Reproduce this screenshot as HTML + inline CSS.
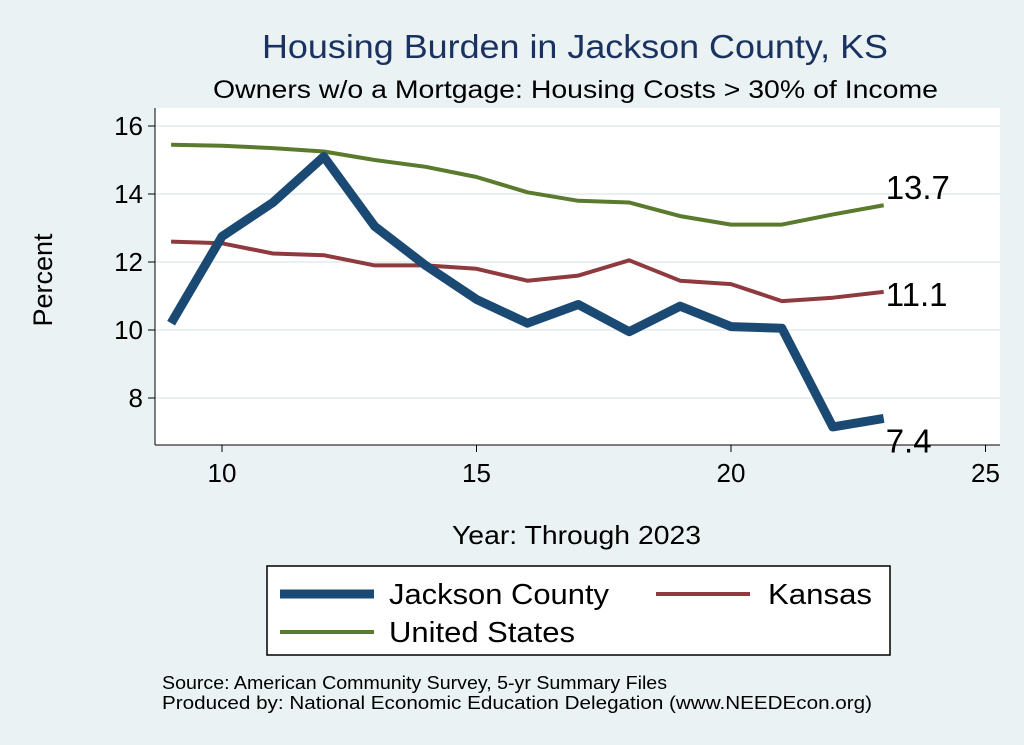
<!DOCTYPE html>
<html><head><meta charset="utf-8"><style>
body{margin:0;background:#eaf2f3;}
svg{display:block;font-family:"Liberation Sans",Arial,sans-serif;}
</style></head><body>
<svg id="c" width="1024" height="745">
<rect x="0" y="0" width="1024" height="745" fill="#eaf2f3"/>
<text x="262" y="58" font-size="33" fill="#1a3260" textLength="626" lengthAdjust="spacingAndGlyphs">Housing Burden in Jackson County, KS</text>
<text x="213" y="98" font-size="25" fill="#000" textLength="725" lengthAdjust="spacingAndGlyphs">Owners w/o a Mortgage: Housing Costs &gt; 30% of Income</text>
<rect x="155" y="108" width="845" height="337" fill="#fff"/>
<g id="grid"></g><g id="axes"></g><g id="series"></g>
<text x="52" y="280" font-size="27" text-anchor="middle" transform="rotate(-90 52 280)">Percent</text>
<text x="452" y="544" font-size="26" textLength="249" lengthAdjust="spacingAndGlyphs">Year: Through 2023</text>
<g>
<rect x="267" y="566" width="623" height="89" fill="#fff" stroke="#000" stroke-width="1.5"/>
<line x1="280" y1="594" x2="374" y2="594" stroke="#1a4a73" stroke-width="9"/>
<text x="389" y="604" font-size="29" textLength="220" lengthAdjust="spacingAndGlyphs">Jackson County</text>
<line x1="656" y1="594" x2="750" y2="594" stroke="#8e3a3f" stroke-width="4"/>
<text x="768" y="604" font-size="29" textLength="104" lengthAdjust="spacingAndGlyphs">Kansas</text>
<line x1="280" y1="632" x2="374" y2="632" stroke="#5a7a2e" stroke-width="4"/>
<text x="389" y="642" font-size="29" textLength="186" lengthAdjust="spacingAndGlyphs">United States</text>
</g>
<text x="162" y="689" font-size="18" textLength="505" lengthAdjust="spacingAndGlyphs">Source: American Community Survey, 5-yr Summary Files</text>
<text x="162" y="709" font-size="18" textLength="710" lengthAdjust="spacingAndGlyphs">Produced by: National Economic Education Delegation (www.NEEDEcon.org)</text>
</svg>
<script>
const years=[9,10,11,12,13,14,15,16,17,18,19,20,21,22,23];
const jackson=[10.2,12.75,13.75,15.1,13.05,11.9,10.9,10.2,10.75,9.95,10.7,10.1,10.05,7.15,7.4];
const kansas=[12.6,12.55,12.25,12.2,11.9,11.9,11.8,11.45,11.6,12.05,11.45,11.35,10.85,10.95,11.12];
const us=[15.45,15.42,15.35,15.25,15.0,14.8,14.5,14.05,13.8,13.75,13.35,13.1,13.1,13.4,13.67];
const xTicks=[10,15,20,25];
const yTicks=[8,10,12,14,16];
const X=v=>222+(v-10)*50.9;
const Y=v=>126+(16-v)*34;
const NS="http://www.w3.org/2000/svg";
function mk(tag,attrs,parent){const e=document.createElementNS(NS,tag);for(const k in attrs)e.setAttribute(k,attrs[k]);parent.appendChild(e);return e;}
const grid=document.getElementById('grid'),axes=document.getElementById('axes'),ser=document.getElementById('series');
yTicks.forEach(t=>{
 const g=mk('line',{x1:155,x2:1000,y1:Y(t),y2:Y(t),stroke:'#e4ecee','stroke-width':1.5},grid);
 
 
 const tk=mk('line',{x1:148,x2:155,y1:Y(t),y2:Y(t),stroke:'#000'},axes);
 
 
 const tx=mk('text',{x:143,y:Y(t)+9,'font-size':26,'text-anchor':'end'},axes);tx.textContent=t;
 
 
});
xTicks.forEach(t=>{
 const tk=mk('line',{x1:X(t),x2:X(t),y1:445,y2:452,stroke:'#000'},axes);
 
 
 const tx=mk('text',{x:X(t),y:482,'font-size':26,'text-anchor':'middle'},axes);tx.textContent=t;
 
 
});
const ya=mk('line',{x1:155,x2:155,y1:108,y2:445,stroke:'#000'},axes);


const xa=mk('line',{x1:155,x2:1000,y1:445,y2:445,stroke:'#000'},axes);


function line(data,color,w,name,dy){
 const p=mk('polyline',{points:data.map((v,i)=>X(years[i])+','+Y(v)).join(' '),fill:'none',stroke:color,'stroke-width':w,'stroke-linejoin':'round'},ser);
 
 
 const last=data[data.length-1];
 const t=mk('text',{x:X(years[years.length-1])+2,y:Y(last)+dy,'font-size':33},ser);
 t.textContent=last.toFixed(1);
 
 
}
line(us,'#5a7a2e',4,'us',-6);
line(kansas,'#8e3a3f',4,'kansas',14);
line(jackson,'#1a4a73',9,'jackson',34);
</script>
</body></html>
